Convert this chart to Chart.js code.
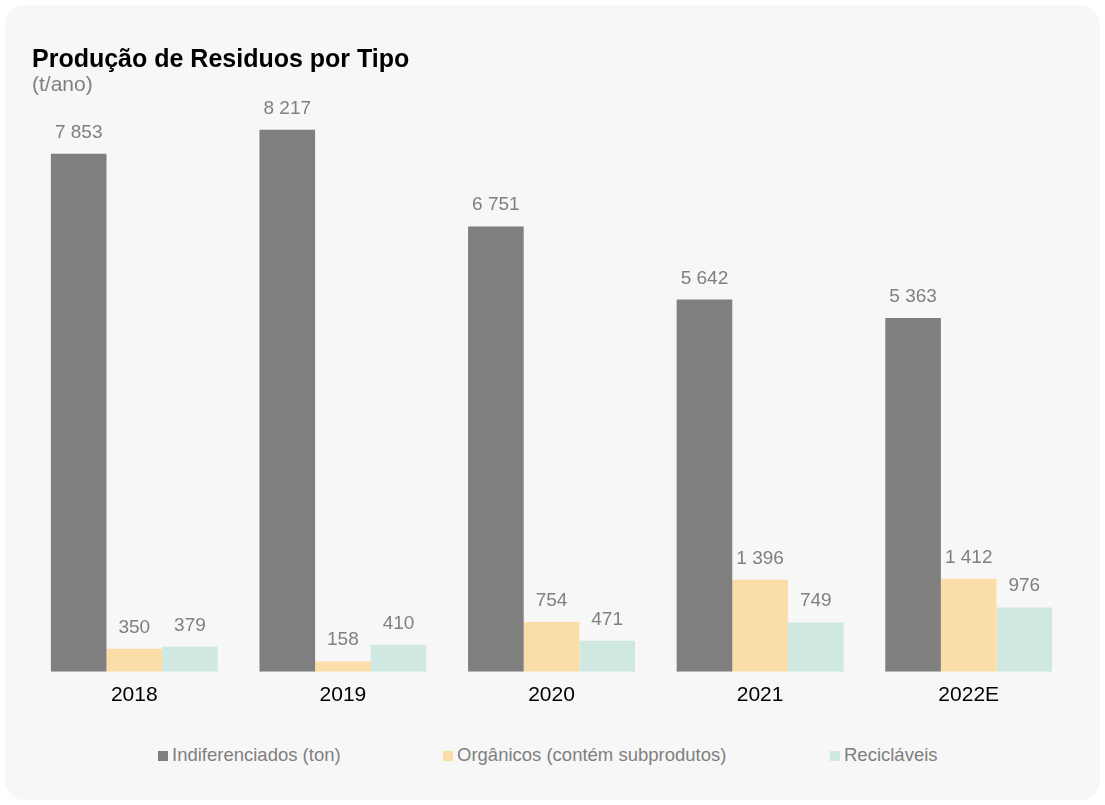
<!DOCTYPE html>
<html>
<head>
<meta charset="utf-8">
<script src="https://cdn.jsdelivr.net/npm/chart.js@4"></script>
<style>
  body { margin: 0; background: #fff; font-family: "Liberation Sans", Arial, sans-serif; }
  #card { position: absolute; left: 5px; top: 5px; width: 1095px; height: 795px; background: #f7f7f7; border-radius: 20px; overflow: hidden; }
  #wrap { position: absolute; left: 0; top: 0; width: 1095px; height: 720px; }
  #title { position: absolute; left: 27px; top: 39px; font-size: 25px; font-weight: bold; color: #000; }
  #subtitle { position: absolute; left: 27px; top: 67px; font-size: 21px; color: #7f7f7f; }
  .leg { position: absolute; top: 739px; font-size: 18.5px; color: #7f7f7f; line-height: 22px; white-space: nowrap; }
  .leg span { display: inline-block; width: 10px; height: 10px; margin-right: 4px; }
</style>
</head>
<body>
<div id="card">
  <div id="wrap"><canvas id="residuos"></canvas></div>
  <div id="title">Produção de Residuos por Tipo</div>
  <div id="subtitle">(t/ano)</div>
  <div class="leg" style="left:153px"><span style="background:#7f7f7f"></span>Indiferenciados (ton)</div>
  <div class="leg" style="left:438px"><span style="background:#fbdea7"></span>Orgânicos (contém subprodutos)</div>
  <div class="leg" style="left:825px"><span style="background:#cfe8e2"></span>Recicláveis</div>
</div>
<script>
const anos = ['2018', '2019', '2020', '2021', '2022E'];
const indiferenciados = [7853, 8217, 6751, 5642, 5363];
const organicos = [350, 158, 754, 1396, 1412];
const reciclaveis = [379, 410, 471, 749, 976];

// números com espaço como separador de milhares
function fmt(v) {
  return String(v).replace(/\B(?=(\d{3})+(?!\d))/g, ' ');
}

const valueLabels = {
  id: 'valueLabels',
  afterDatasetsDraw(chart) {
    const ctx = chart.ctx;
    ctx.save();
    ctx.font = '19px "Liberation Sans", Arial, sans-serif';
    ctx.fillStyle = '#7f7f7f';
    ctx.textAlign = 'center';
    ctx.textBaseline = 'alphabetic';
    chart.data.datasets.forEach((ds, i) => {
      chart.getDatasetMeta(i).data.forEach((bar, j) => {
        ctx.fillText(fmt(ds.data[j]), bar.x, bar.y - 16);
      });
    });
    ctx.restore();
  }
};

const ctx = document.getElementById('residuos').getContext('2d');
new Chart(ctx, {
  type: 'bar',
  data: {
    labels: anos,
    datasets: [
      { label: 'Indiferenciados (ton)', data: indiferenciados, backgroundColor: '#7f7f7f' },
      { label: 'Orgânicos (contém subprodutos)', data: organicos, backgroundColor: '#fbdea7' },
      { label: 'Recicláveis', data: reciclaveis, backgroundColor: '#cfe8e2' }
    ]
  },
  options: {
    responsive: true,
    maintainAspectRatio: false,
    animation: false,
    layout: { padding: { left: 25, right: 27, top: 73, bottom: 6 } },
    datasets: { bar: { categoryPercentage: 0.8, barPercentage: 1.0 } },
    plugins: {
      legend: { display: false },
      tooltip: { enabled: false }
    },
    scales: {
      x: {
        grid: { display: false, drawTicks: false },
        border: { display: false },
        ticks: { color: '#000', padding: 11, font: { size: 21, family: '"Liberation Sans", Arial, sans-serif' } }
      },
      y: {
        display: false,
        min: 0,
        max: 9000
      }
    }
  },
  plugins: [valueLabels]
});
</script>
</body>
</html>
